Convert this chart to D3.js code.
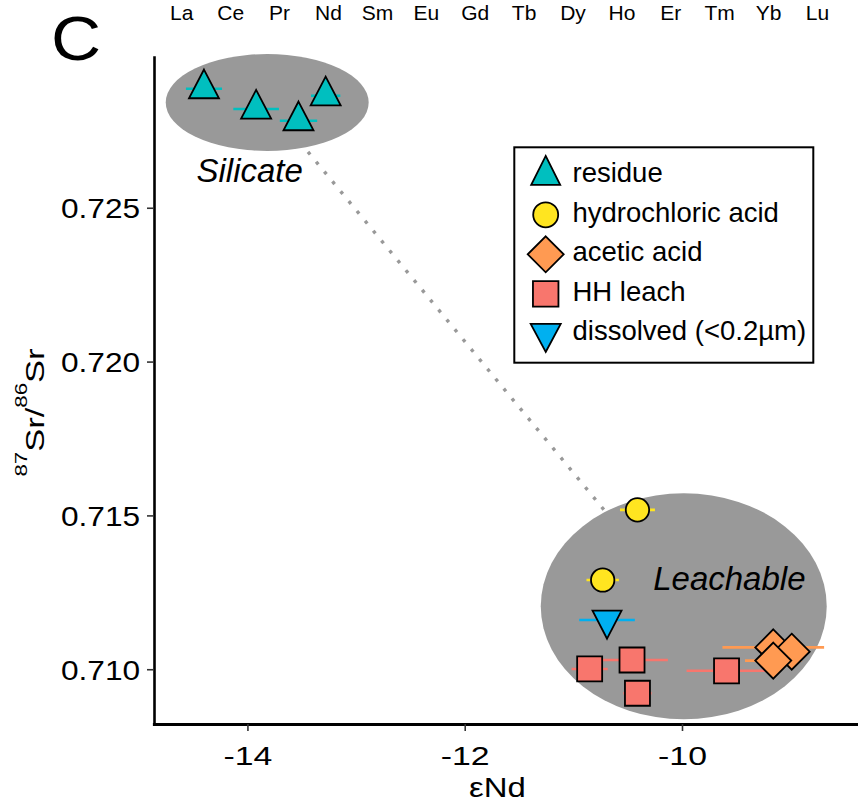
<!DOCTYPE html>
<html><head><meta charset="utf-8">
<script src="https://cdn.jsdelivr.net/npm/d3@7"></script>
<style>
body{margin:0;background:#fff}
svg{display:block}
text{font-family:"Liberation Sans",Arial,Helvetica,sans-serif;fill:#000}
</style>
</head><body>
<svg id="chart" width="858" height="803"></svg>
<script>
// ---- data ----
const elements = ["La","Ce","Pr","Nd","Sm","Eu","Gd","Tb","Dy","Ho","Er","Tm","Yb","Lu"];
const seriesNames = ["residue","hydrochloric acid","acetic acid","HH leach","dissolved (<0.2\u00b5m)"];

const residueX = [-14.40, -13.92, -13.53, -13.28];
const residueY = [0.72887, 0.72821, 0.72783, 0.72864];
const residueErr = [0.166, 0.21, 0.172, 0.135];

const hclX = [-10.41, -10.73];
const hclY = [0.71518, 0.71290];
const hclErr = [0.161, 0.149];

const aceticX = [-9.16, -8.99, -9.16];
const aceticY = [0.71071, 0.71057, 0.71028];
const aceticErr = [0.468, 0.05, 0.26];

const hhX = [-10.85, -10.46, -10.41, -9.59];
const hhY = [0.71001, 0.71030, 0.70922, 0.70995];
const hhErr = [0.166, 0.33, 0.13, 0.368];

const dissolvedX = [-10.69];
const dissolvedY = [0.71160];
const dissolvedErr = [0.256];

const xTicks = [-14, -12, -10];
const yTicks = [0.710, 0.715, 0.720, 0.725];

// groups (ellipses): center x, center y, radius x (eNd units), radius y (ratio units)
const groupNames = ["Silicate", "Leachable"];
const groupCX = [-13.818, -9.984];
const groupCY = [0.72842, 0.712047];
const groupRX = [0.934, 1.316];
const groupRY = [0.001576, 0.003672];
const groupLabelX = [-13.979, -9.564];
const groupLabelY = [0.725837, 0.712577];

// ---- layout ----
const svg = d3.select("#chart");
const x = d3.scaleLinear().domain([-14.86, -8.38]).range([154, 858]);
const y = d3.scaleLinear().domain([0.70822, 0.72990]).range([724, 57]);

const colors = ["#00BFBF", "#FFE520", "#FF9A52", "#F8766D", "#00B0F0"];
const shapes = ["triUp", "circle", "diamond", "square", "triDown"];

function shapePath(type, legend) {
  if (type === "triUp") { const w = legend ? 29 : 30, h = legend ? 29 : 28.7;
    return `M0,${-2*h/3}L${w/2},${h/3}L${-w/2},${h/3}Z`; }
  if (type === "triDown") { const w = legend ? 30 : 29, h = 28;
    return `M0,${2*h/3}L${w/2},${-h/3}L${-w/2},${-h/3}Z`; }
  if (type === "circle") { const r = legend ? 12.5 : 11.7;
    return `M${r},0A${r},${r} 0 1,1 ${-r},0A${r},${r} 0 1,1 ${r},0Z`; }
  if (type === "square") { const s = legend ? 25.5 : 25, h = s/2;
    return `M${-h},${-h}H${h}V${h}H${-h}Z`; }
  if (type === "diamond") { const d = 18;
    return `M0,${-d}L${d},0L0,${d}L${-d},0Z`; }
}

const series = [
  {x: residueX, y: residueY, err: residueErr},
  {x: hclX, y: hclY, err: hclErr},
  {x: aceticX, y: aceticY, err: aceticErr},
  {x: hhX, y: hhY, err: hhErr},
  {x: dissolvedX, y: dissolvedY, err: dissolvedErr}
].map((s, i) => ({name: seriesNames[i], color: colors[i], shape: shapes[i],
  pts: s.x.map((v, j) => ({x: v, y: s.y[j], e: s.err[j]}))}));

// element labels along top
const ex = d3.scalePoint().domain(elements).range([181.8, 817.5]);
svg.append("g").selectAll("text").data(elements).join("text")
  .attr("x", d => ex(d)).attr("y", 19.5)
  .attr("text-anchor", "middle").attr("font-size", 21).text(d => d);

// panel letter
svg.append("text").attr("transform", "translate(76,60) scale(1.1,1)")
  .attr("text-anchor", "middle").attr("font-size", 63).text("C");

// connecting dotted line between group centres
svg.append("line")
  .attr("x1", x(groupCX[0])).attr("y1", y(groupCY[0]))
  .attr("x2", x(groupCX[1])).attr("y2", y(groupCY[1]))
  .attr("stroke", "#999999").attr("stroke-width", 3.4)
  .attr("stroke-dasharray", "3.4 9.4");

// ellipses
svg.append("g").selectAll("ellipse").data(groupNames).join("ellipse")
  .attr("cx", (d, i) => x(groupCX[i])).attr("cy", (d, i) => y(groupCY[i]))
  .attr("rx", (d, i) => x(groupCX[i] + groupRX[i]) - x(groupCX[i]))
  .attr("ry", (d, i) => y(groupCY[i]) - y(groupCY[i] + groupRY[i]))
  .attr("fill", "#999999");

svg.append("g").selectAll("text").data(groupNames).join("text")
  .attr("x", (d, i) => x(groupLabelX[i])).attr("y", (d, i) => y(groupLabelY[i]))
  .attr("text-anchor", "middle").attr("font-size", 33).attr("font-style", "italic")
  .text(d => d);

// error bars
const eg = svg.append("g");
series.forEach(s => {
  eg.selectAll(null).data(s.pts).join("line")
    .attr("x1", d => x(d.x - d.e)).attr("x2", d => x(d.x + d.e))
    .attr("y1", d => y(d.y)).attr("y2", d => y(d.y))
    .attr("stroke", s.color).attr("stroke-width", 2.6);
});

// points
const pg = svg.append("g");
series.forEach(s => {
  pg.selectAll(null).data(s.pts).join("path")
    .attr("transform", d => `translate(${x(d.x)},${y(d.y)})`)
    .attr("d", shapePath(s.shape, false))
    .attr("fill", s.color).attr("stroke", "#000").attr("stroke-width", 1.8)
    .attr("stroke-linejoin", "miter");
});

// axes
const xAxis = svg.append("g").attr("transform", "translate(0,724)")
  .call(d3.axisBottom(x).tickValues(xTicks).tickSize(7).tickSizeOuter(0).tickFormat(d3.format("d")));
xAxis.select(".domain").attr("stroke", "#000").attr("stroke-width", 3.2);
xAxis.selectAll(".tick line").attr("stroke", "#333").attr("stroke-width", 1.6);
xAxis.selectAll(".tick text").attr("y", 41).attr("dy", null)
  .attr("font-size", 26).attr("font-family", null).attr("fill", "#000")
  .attr("transform", "scale(1.3,1)").text(d => d3.format("d")(d).replace("\u2212", "-"));

const yAxis = svg.append("g").attr("transform", "translate(154,0)")
  .call(d3.axisLeft(y).tickValues(yTicks).tickSize(7).tickSizeOuter(0).tickFormat(d3.format(".3f")));
yAxis.select(".domain").attr("stroke", "#000").attr("stroke-width", 2.6);
yAxis.selectAll(".tick line").attr("stroke", "#333").attr("stroke-width", 1.6);
yAxis.selectAll(".tick text").attr("x", -12.3).attr("dy", "0.36em")
  .attr("font-size", 28).attr("font-family", null).attr("fill", "#000")
  .attr("transform", "scale(1.13,1)");
svg.selectAll(".domain").attr("stroke-linecap", "square");

// axis titles
svg.append("text").attr("transform", "translate(497.5,797) scale(1.22,1)")
  .attr("text-anchor", "middle").attr("font-size", 27).text("\u03b5Nd");

const yt = svg.append("text").attr("transform", "translate(43.5,412.5) rotate(-90) scale(1.35,1)")
  .attr("text-anchor", "middle").attr("font-size", 25.6);
yt.append("tspan").attr("font-size", 16.5).attr("dy", -17).text("87");
yt.append("tspan").attr("dy", 17).text("Sr/");
yt.append("tspan").attr("font-size", 16.5).attr("dy", -17).text("86");
yt.append("tspan").attr("dy", 17).text("Sr");

// legend
const lg = svg.append("g");
lg.append("rect").attr("x", 514.3).attr("y", 147.3).attr("width", 299).attr("height", 215.4)
  .attr("fill", "#fff").attr("stroke", "#000").attr("stroke-width", 2);
const rows = lg.selectAll("g.row").data(series).join("g").attr("class", "row")
  .attr("transform", (d, i) => `translate(0,${182.3 + i * 39.5})`);
rows.append("path").attr("transform", "translate(545.7,-7)")
  .attr("d", d => shapePath(d.shape, true))
  .attr("fill", d => d.color).attr("stroke", "#000").attr("stroke-width", 1.8);
rows.append("text").attr("x", 572.5).attr("y", 0).attr("font-size", 27.5).text(d => d.name);
</script>
</body></html>
